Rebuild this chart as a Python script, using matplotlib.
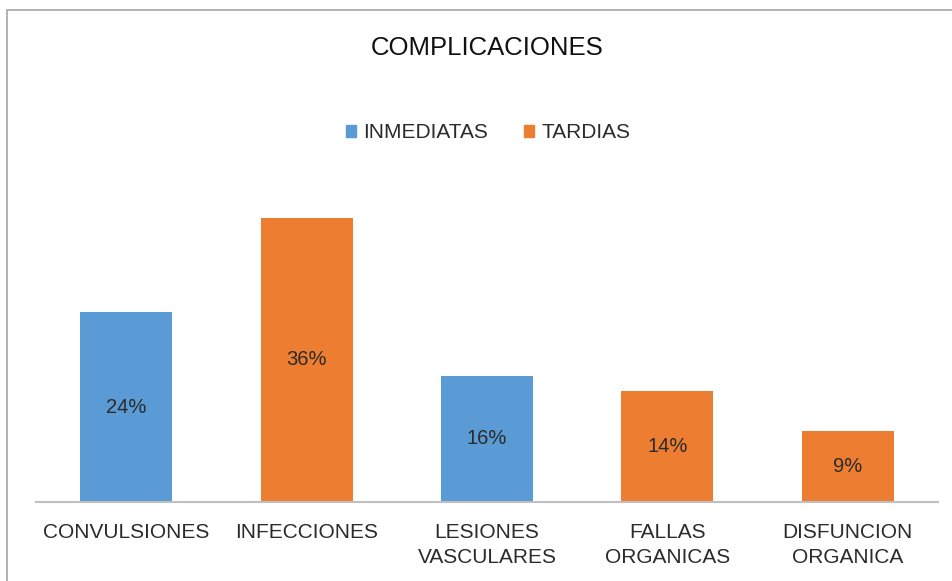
#!/usr/bin/env python3
"""Bar chart of complications (immediate vs late)."""
import matplotlib
matplotlib.use("Agg")
import matplotlib.pyplot as plt
from matplotlib.patches import Rectangle, Patch

# Data
categories = ["CONVULSIONES", "INFECCIONES", "LESIONES\nVASCULARES",
              "FALLAS\nORGANICAS", "DISFUNCION\nORGANICA"]
values = [24, 36, 16, 14, 9]
series = ["INMEDIATAS", "TARDIAS", "INMEDIATAS", "TARDIAS", "TARDIAS"]
series_names = ["INMEDIATAS", "TARDIAS"]

colors = {"INMEDIATAS": "#5B9BD5", "TARDIAS": "#ED7D31"}
text_color = "#2b2b2b"

plt.rcParams['font.family'] = ['Liberation Sans', 'DejaVu Sans']

W, H = 953, 581
fig = plt.figure(figsize=(W / 100, H / 100), dpi=100)
ax = fig.add_axes([36 / W, 1 - 502 / H, (938 - 36) / W, (502 - 186) / H])

x = list(range(len(categories)))
bars = ax.bar(x, values, width=0.51, color=[colors[s] for s in series])

# Data labels centred in each bar
for rect, v in zip(bars, values):
    ax.text(rect.get_x() + rect.get_width() / 2, v / 2, f"{v}%",
            ha="center", va="center", fontsize=14.5, color=text_color)

ax.set_xlim(-0.5, len(categories) - 0.5)
ax.set_ylim(0, 40)
ax.set_yticks([])
ax.set_xticks(x)
ax.set_xticklabels(categories, fontsize=15, color=text_color, linespacing=1.4)
ax.tick_params(axis="x", length=0, pad=15)
for side in ["top", "right", "left"]:
    ax.spines[side].set_visible(False)
ax.spines["bottom"].set_color("#BFBFBF")
ax.spines["bottom"].set_linewidth(1.5)

# Title and legend
fig.text(487 / W, 1 - 48 / H, "COMPLICACIONES", ha="center", va="center",
         fontsize=18.5, color="#111111")
handles = [Patch(color=colors[s], label=s) for s in series_names]
leg = fig.legend(handles=handles, loc="center", bbox_to_anchor=(488 / W, 1 - 133 / H),
                 ncol=2, frameon=False, fontsize=15, handlelength=0.5,
                 handleheight=0.5, handletextpad=0.35, columnspacing=1.7)
for t in leg.get_texts():
    t.set_color(text_color)

# Outer chart frame (cut off on the right and bottom)
fig.patches.append(Rectangle((7 / W, -0.1), 2, 1 - 10 / H + 0.1,
                             transform=fig.transFigure, fill=False,
                             edgecolor="#A6A6A6", linewidth=1.2))

fig.savefig("out.png", dpi=100)
